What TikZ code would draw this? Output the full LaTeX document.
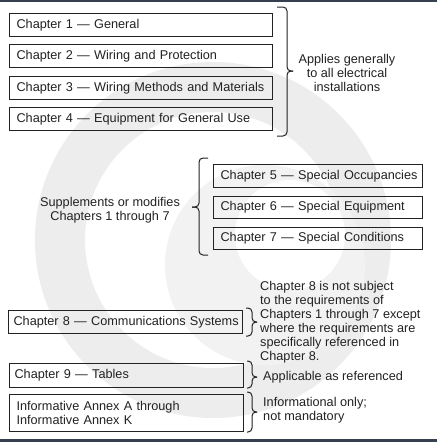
\documentclass[tikz,border=0pt]{standalone}
\usepackage{fontspec}
\setmainfont{Liberation Sans}
\definecolor{band}{HTML}{34404E}
\definecolor{ink}{HTML}{222222}
\begin{document}
\begin{tikzpicture}[x=1pt,y=-1pt,
  box/.style={draw=ink, line width=1.1pt, anchor=north west, inner ysep=0pt, inner xsep=0pt,
    font=\fontsize{12.7}{14}\selectfont, text=ink, align=left},
  lbl/.style={font=\fontsize{12.7}{14}\selectfont, text=ink, inner sep=0pt},
  brc/.style={draw=ink, line width=1pt, rounded corners=4pt}]
\useasboundingbox (0,0) rectangle (437,442);
\fill[white] (0,0) rectangle (437,442);
% faint watermark
\fill[black!7, even odd rule] (213,240) circle (178) (213,240) circle (128);
\fill[black!5] (265,265) circle (100);
\fill[white] (290,235) circle (55);
% frame bands
\fill[band] (0,0) rectangle (437,1.5);
\fill[band] (0,439) rectangle (437,442);
% boxes
\node[box, text width=263pt, minimum height=23pt] (b1) at (9,13) {\hspace*{7pt}\mbox{Chapter 1 — General}};
\node[box, text width=263pt, minimum height=23pt] (b2) at (9,44) {\hspace*{7pt}\mbox{Chapter 2 — Wiring and Protection}};
\node[box, text width=263pt, minimum height=23pt] (b3) at (9,76) {\hspace*{7pt}\mbox{Chapter 3 — Wiring Methods and Materials}};
\node[box, text width=263pt, minimum height=23pt] (b4) at (9,107) {\hspace*{7pt}\mbox{Chapter 4 — Equipment for General Use}};
\node[box, text width=209pt, minimum height=23pt] (b5) at (213,164) {\hspace*{7pt}\mbox{Chapter 5 — Special Occupancies}};
\node[box, text width=209pt, minimum height=22pt] (b6) at (213,196) {\hspace*{7pt}\mbox{Chapter 6 — Special Equipment}};
\node[box, text width=209pt, minimum height=22pt] (b7) at (213,227) {\hspace*{7pt}\mbox{Chapter 7 — Special Conditions}};
\node[box, text width=234pt, minimum height=23pt] (b8) at (8,310) {\hspace*{5pt}\mbox{Chapter 8 — Communications Systems}};
\node[box, text width=234pt, minimum height=24pt] (b9) at (9,363) {\hspace*{5pt}\mbox{Chapter 9 — Tables}};
\node[box, text width=234pt, minimum height=37pt] (b10) at (9,394) {\hspace*{7pt}\mbox{Informative Annex A through}\\\hspace*{7pt}\mbox{Informative Annex K}};
% braces
\draw[brc] (277,7) -| (287,71) -- (293,71);
\draw[brc] (293,71) -- (287,71) |- (277,136);
\draw[brc] (208,158) -| (199,207) -- (192,207);
\draw[brc] (192,207) -- (199,207) |- (208,255);
\draw[brc] (246,308) -| (252,322) -- (257,322);
\draw[brc] (257,322) -- (252,322) |- (246,336);
\draw[brc] (247,361) -| (252,377) -- (257,377);
\draw[brc] (257,377) -- (252,377) |- (247,388);
\draw[brc] (247,392) -| (252,412) -- (257,412);
\draw[brc] (257,412) -- (252,412) |- (247,432);
% labels
\node[lbl, align=center] (t1) at (347,72.5) {Applies generally\\to all electrical\\installations};
\node[lbl, align=center] (t2) at (110,210.5) {Supplements or modifies\\Chapters 1 through 7};
\node[lbl, align=left, anchor=west] (t3) at (260,322) {Chapter 8 is not subject\\to the requirements of\\Chapters 1 through 7 except\\where the requirements are\\specifically referenced in\\Chapter 8.};
\node[lbl, anchor=west] (t4) at (263,377) {Applicable as referenced};
\node[lbl, align=left, anchor=west] (t5) at (263,410) {Informational only;\\not mandatory};
\end{tikzpicture}
\end{document}
